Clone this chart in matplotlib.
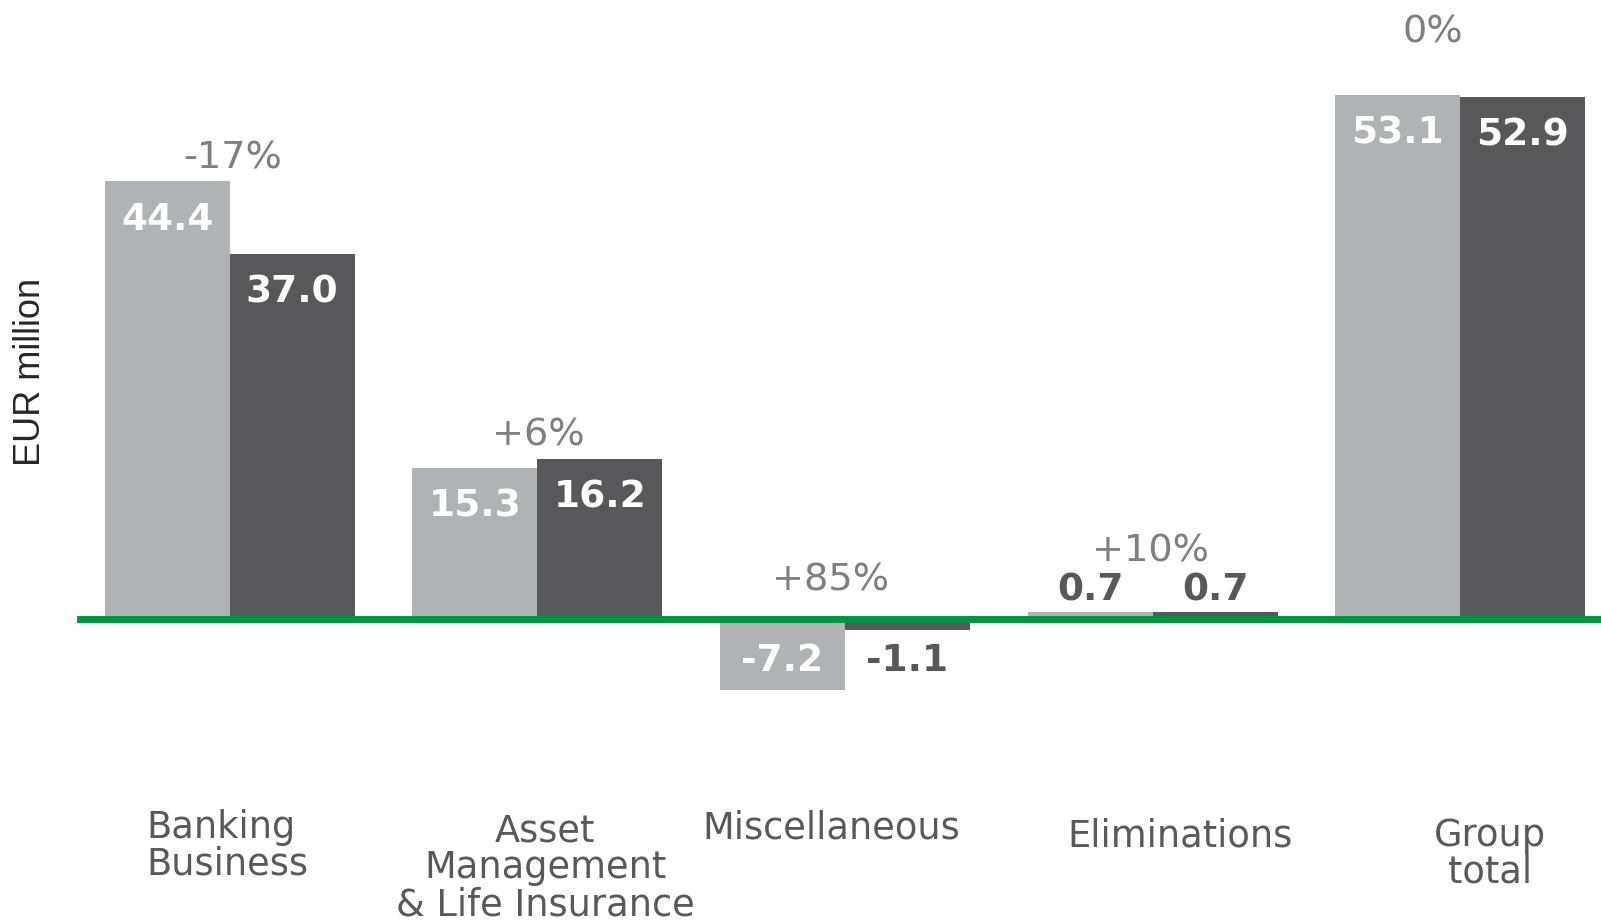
import matplotlib
matplotlib.use("Agg")
import matplotlib.pyplot as plt
import numpy as np

#---------- DATA ---------------------------------------------------------------

categories = ['Banking\nBusiness', 'Asset\nManagement\n& Life Insurance',
              'Miscellaneous', 'Eliminations', 'Group\ntotal']
prev_year = [44.4, 15.3, -7.2, 0.7, 53.1]        # light bars
curr_year = [37.0, 16.2, -1.1, 0.7, 52.9]        # dark bars
changes = ['-17%', '+6%', '+85%', '+10%', '0%']

#---------- STYLE --------------------------------------------------------------

light = '#b1b2b5'
dark = '#58585a'
green = '#009640'
pct_grey = '#7f7f7f'
cat_grey = '#595959'

barw = 0.406
ylim = (-30.63, 62.78)
xlim = (-0.496, 4.457)

# where the change labels and category labels sit (x in category units, y in EUR million)
# category label y is the baseline of the last line
pct_x = [0.011, 1.003, 1.954, 2.992, 3.91]
pct_y = [45.7, 17.6, 2.94, 5.82, 58.43]
cat_x = [-0.271, 1.025, 1.955, 3.088, 4.097]
cat_y = [-25.96, -30.1, -22.31, -23.12, -26.77]
cat_ha = ['left', 'center', 'center', 'center', 'center']

#-------------------------------------------------------------------------------

fig = plt.figure(figsize=(16.01, 9.21), dpi=100)
ax = fig.add_axes([77 / 1601, 0, 1 - 77 / 1601, 1])

x = np.arange(len(categories))
b1 = ax.bar(x - barw / 2, prev_year, barw, color=light, zorder=2)
b2 = ax.bar(x + barw / 2, curr_year, barw, color=dark, zorder=2)

ax.axhline(0, color=green, linewidth=5, zorder=3)


def value_label(xpos, v):
    # big bars get a white label inside the top, tiny ones a dark label outside
    if v >= 5:
        y, col = v - 4.9, 'white'
    elif v < 0:
        y, col = -5.25, ('white' if v < -5 else dark)
    else:
        y, col = v + 1.2, dark
    ax.text(xpos, y, f'{v:.1f}', ha='center', va='baseline', color=col,
            fontsize=27, fontweight='bold', family='DejaVu Sans', zorder=4)


for i in range(len(categories)):
    value_label(x[i] - barw / 2, prev_year[i])
    value_label(x[i] + barw / 2, curr_year[i])
    ax.text(pct_x[i], pct_y[i], changes[i], ha='center', va='baseline',
            color=pct_grey, fontsize=27.5, family='DejaVu Sans')
    ax.text(cat_x[i], cat_y[i], categories[i], ha=cat_ha[i], va='baseline',
            multialignment=cat_ha[i], color=cat_grey, fontsize=26.5,
            family='DejaVu Sans', linespacing=1.01)

fig.text(30 / 1601, 1 - 371.5 / 921, 'EUR million', rotation=90, ha='center',
         va='center', fontsize=26, color='#262626', family='Liberation Sans')

ax.set_xlim(xlim)
ax.set_ylim(ylim)
ax.axis('off')

fig.savefig('out.png', dpi=100)
